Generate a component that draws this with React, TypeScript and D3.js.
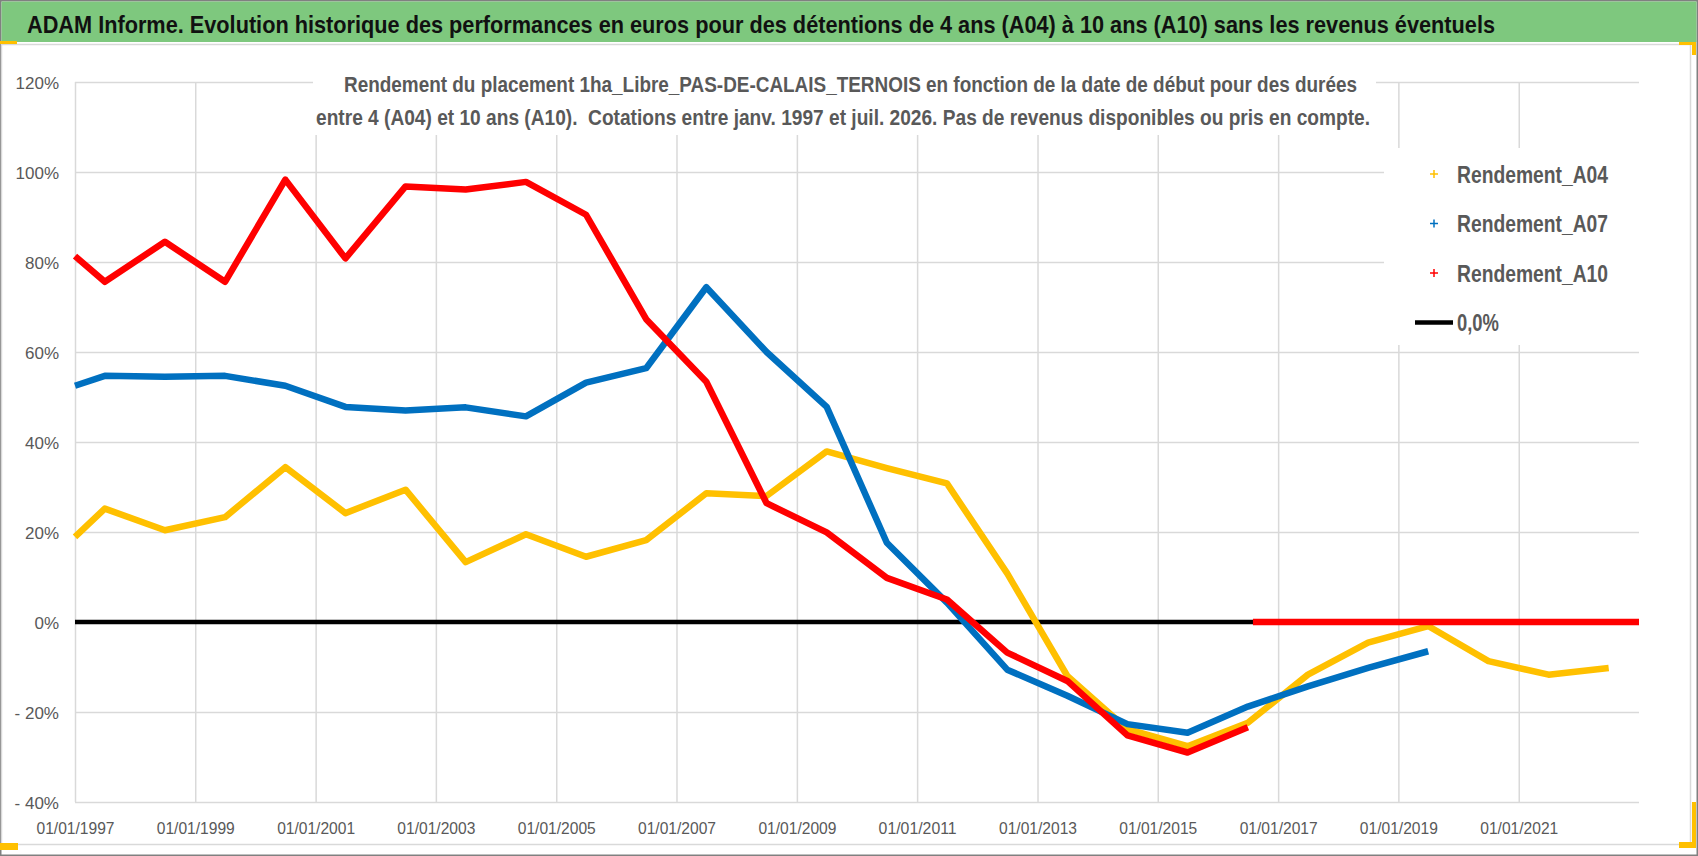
import { useEffect, useRef } from 'react';
import * as d3 from 'd3';

// Points annuels (mi-année), en %
const dates = [
  '1997-01-01', '1997-07-01', '1998-07-01', '1999-07-01', '2000-07-01', '2001-07-01',
  '2002-07-01', '2003-07-01', '2004-07-01', '2005-07-01', '2006-07-01', '2007-07-01',
  '2008-07-01', '2009-07-01', '2010-07-01', '2011-07-01', '2012-07-01', '2013-07-01',
  '2014-07-01', '2015-07-01', '2016-07-01', '2017-07-01', '2018-07-01', '2019-07-01',
  '2020-07-01', '2021-07-01', '2022-07-01',
];

const rendementA04 = [
  18.9, 25.2, 20.4, 23.3, 34.4, 24.2, 29.4, 13.3, 19.5, 14.5, 18.2, 28.6, 28.0, 37.9,
  34.2, 30.8, 10.8, -12.0, -23.8, -27.6, -22.4, -11.7, -4.6, -0.9, -8.7, -11.7, -10.2,
];

const rendementA07 = [
  52.5, 54.7, 54.5, 54.7, 52.5, 47.8, 47.0, 47.7, 45.7, 53.2, 56.4, 74.4, 60.0, 47.8,
  17.6, 4.3, -10.6, -16.4, -22.7, -24.6, -18.8, -14.3, -10.2, -6.5,
];

const rendementA10 = [
  81.3, 75.6, 84.5, 75.6, 98.3, 80.8, 96.8, 96.1, 97.8, 90.5, 67.3, 53.4, 26.4, 19.9,
  9.8, 5.0, -6.8, -13.1, -25.2, -29.0, -23.4,
];

// A10 sans valeur après août 2016 : tracé à 0
const a10ZeroDates = ['2016-08-01', '2023-01-01'];
const zeroLineDates = ['1997-01-01', '2023-01-01'];

const xTickYears = [1997, 1999, 2001, 2003, 2005, 2007, 2009, 2011, 2013, 2015, 2017, 2019, 2021];
const yTicks = [-40, -20, 0, 20, 40, 60, 80, 100, 120];

const legendLabels = ['Rendement_A04', 'Rendement_A07', 'Rendement_A10', '0,0%'];
const colors = ['#FFC000', '#0070C0', '#FF0000', '#000000'];

const title =
  'ADAM Informe. Evolution historique des performances en euros pour des détentions de 4 ans (A04) à 10 ans (A10) sans les revenus éventuels';
const subtitle1 =
  'Rendement du placement 1ha_Libre_PAS-DE-CALAIS_TERNOIS en fonction de la date de début pour des durées';
const subtitle2 =
  'entre 4 (A04) et 10 ans (A10).  Cotations entre janv. 1997 et juil. 2026. Pas de revenus disponibles ou pris en compte.';

const FONT = "'Liberation Sans Narrow', 'Arial Narrow', 'Liberation Sans', sans-serif";

export default function App() {
  const svgRef = useRef<SVGSVGElement | null>(null);

  useEffect(() => {
    if (!svgRef.current) return;
    const W = 1698;
    const H = 856;
    const svg = d3.select(svgRef.current);
    svg.selectAll('*').remove();

    const parse = d3.timeParse('%Y-%m-%d');
    const x = d3.scaleTime()
      .domain([new Date(1997, 0, 1), new Date(2023, 0, 1)])
      .range([75, 1639]);
    const y = d3.scaleLinear().domain([-40, 120]).range([802, 82]);

    // fond et cadres
    svg.append('rect').attr('x', 0.75).attr('y', 0.75).attr('width', W - 1.5).attr('height', H - 1.5)
      .attr('fill', '#fff').attr('stroke', '#808080').attr('stroke-width', 1.5);
    svg.append('rect').attr('x', 1.5).attr('y', 1.5).attr('width', 1695).attr('height', 40.5)
      .attr('fill', '#7ec87e');
    svg.append('rect').attr('x', 1.5).attr('y', 44.5).attr('width', 1689).attr('height', 800)
      .attr('fill', '#fff').attr('stroke', '#d9d9d9').attr('stroke-width', 1.5);

    svg.append('text')
      .attr('x', 27).attr('y', 33)
      .attr('font-family', FONT).attr('font-size', 24).attr('font-weight', 'bold')
      .attr('fill', '#111')
      .attr('textLength', 1468).attr('lengthAdjust', 'spacingAndGlyphs')
      .text(title);

    // grille + axes
    const plotW = 1639 - 75;
    const plotH = 802 - 82;

    const yAxis = svg.append('g')
      .attr('transform', 'translate(75,0)')
      .call(d3.axisLeft(y)
        .tickValues(yTicks)
        .tickSize(-plotW)
        .tickPadding(16)
        .tickFormat(d => (+d < 0 ? `- ${-d}%` : `${d}%`)));
    yAxis.select('.domain').remove();
    yAxis.selectAll('line').attr('stroke', '#d9d9d9').attr('stroke-width', 1.5);
    yAxis.selectAll('text')
      .attr('font-family', FONT).attr('font-size', 17).attr('fill', '#595959')
      .attr('dy', '0.36em');

    const xAxis = svg.append('g')
      .attr('transform', 'translate(0,802)')
      .call(d3.axisBottom(x)
        .tickValues(xTickYears.map(yr => new Date(yr, 0, 1)))
        .tickSize(-plotH)
        .tickPadding(20)
        .tickFormat(d => d3.timeFormat('%d/%m/%Y')(d as Date)));
    xAxis.select('.domain').remove();
    xAxis.selectAll('line').attr('stroke', '#d9d9d9').attr('stroke-width', 1.5);
    xAxis.selectAll('text')
      .attr('font-family', FONT).attr('font-size', 17).attr('fill', '#595959')
      .attr('textLength', 78).attr('lengthAdjust', 'spacingAndGlyphs');

    // séries
    const line = d3.line<[Date, number]>()
      .x(d => x(d[0]))
      .y(d => y(d[1]));

    const toPts = (ds: string[], vs: number[]) =>
      vs.map((v, i) => [parse(ds[i]) as Date, v] as [Date, number]);

    const series: { pts: [Date, number][]; color: string; width: number }[] = [
      { pts: toPts(zeroLineDates, [0, 0]), color: colors[3], width: 4.5 },
      { pts: toPts(dates, rendementA04), color: colors[0], width: 6.5 },
      { pts: toPts(dates, rendementA07), color: colors[1], width: 6.5 },
      { pts: toPts(dates, rendementA10), color: colors[2], width: 6.5 },
      { pts: toPts(a10ZeroDates, [0, 0]), color: colors[2], width: 6.5 },
    ];

    svg.append('g')
      .selectAll('path')
      .data(series)
      .join('path')
      .attr('d', d => line(d.pts))
      .attr('fill', 'none')
      .attr('stroke', d => d.color)
      .attr('stroke-width', d => d.width)
      .attr('stroke-linejoin', 'round');

    // sous-titre
    svg.append('rect').attr('x', 313).attr('y', 62).attr('width', 1063).attr('height', 73).attr('fill', '#fff');
    svg.append('text')
      .attr('x', 344).attr('y', 92)
      .attr('font-family', FONT).attr('font-size', 22).attr('font-weight', 'bold').attr('fill', '#595959')
      .attr('textLength', 1013).attr('lengthAdjust', 'spacingAndGlyphs')
      .text(subtitle1);
    svg.append('text')
      .attr('x', 316).attr('y', 125)
      .attr('font-family', FONT).attr('font-size', 22).attr('font-weight', 'bold').attr('fill', '#595959')
      .attr('textLength', 1054).attr('lengthAdjust', 'spacingAndGlyphs')
      .style('white-space', 'pre')
      .text(subtitle2);

    // légende
    svg.append('rect').attr('x', 1384).attr('y', 148).attr('width', 256).attr('height', 197).attr('fill', '#fff');
    const legendWidths = [151, 151, 151, 42];
    const lg = svg.append('g')
      .selectAll('g')
      .data(legendLabels)
      .join('g')
      .attr('transform', (_, i) => `translate(0,${174 + i * 49.5})`);
    lg.each(function (d, i) {
      const g = d3.select(this);
      if (i < 3) {
        g.append('path').attr('d', 'M1430,0H1438M1434,-4V4')
          .attr('stroke', colors[i]).attr('stroke-width', 1.5);
      } else {
        g.append('line').attr('x1', 1415).attr('x2', 1453).attr('y1', 0).attr('y2', 0)
          .attr('stroke', colors[3]).attr('stroke-width', 4.5);
      }
      g.append('text')
        .attr('x', 1457).attr('y', 8.5)
        .attr('font-family', FONT).attr('font-size', 23).attr('font-weight', 'bold').attr('fill', '#595959')
        .attr('textLength', legendWidths[i]).attr('lengthAdjust', 'spacingAndGlyphs')
        .text(d);
    });

    // poignées de sélection jaunes
    const handles = [
      [0, 41, 17, 3], [0, 843, 18, 7],
      [1679, 42, 17, 3], [1692, 42, 4, 13],
      [1692, 802, 4, 46], [1679, 842, 17, 6],
    ];
    svg.append('g').selectAll('rect').data(handles).join('rect')
      .attr('x', d => d[0]).attr('y', d => d[1]).attr('width', d => d[2]).attr('height', d => d[3])
      .attr('fill', '#FFC000');
  }, []);

  return (
    <svg
      ref={svgRef}
      width={1698}
      height={856}
      style={{ position: 'absolute', left: 0, top: 0, display: 'block' }}
    />
  );
}
